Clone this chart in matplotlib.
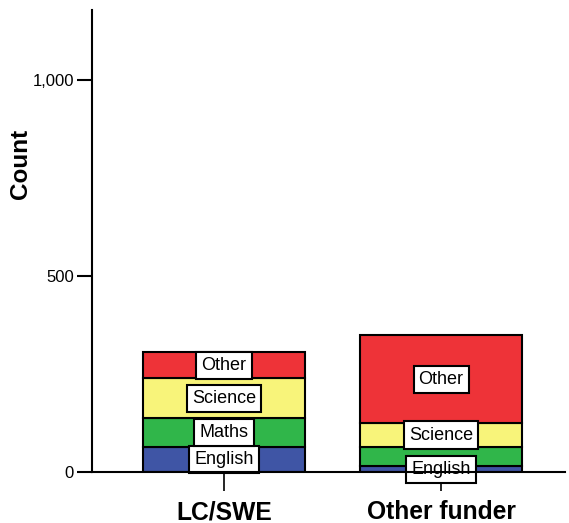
import matplotlib
matplotlib.use("Agg")
import matplotlib.pyplot as plt
from matplotlib import font_manager as fm
import numpy as np

def find_font(bold):
    best = None
    for f in fm.fontManager.ttflist:
        fn = f.fname.lower()
        if "liberation" in fn and "sans" in fn and "narrow" not in fn and "mono" not in fn:
            isbold = "bold" in fn
            isital = "italic" in fn
            if isbold == bold and not isital:
                best = f.fname
    return best

reg_path = find_font(False)
bold_path = find_font(True)

def fp(size, bold=False):
    path = bold_path if bold else reg_path
    if path:
        return fm.FontProperties(fname=path, size=size)
    return fm.FontProperties(family="DejaVu Sans", size=size,
                             weight="bold" if bold else "normal")

categories = ["LC/SWE", "Other funder"]
subjects = ["English", "Maths", "Science", "Other"]
english = [66, 17]
maths = [72, 49]
science = [102, 59]
other = [68, 226]
colors = ["#3F55A5", "#30B64A", "#F8F47A", "#EE3338"]
yticks = [0, 500, 1000]
ytick_labels = ["0", "500", "1,000"]
# which segment labels are visible in the reference
show_label = {"English": [True, True], "Maths": [True, False],
              "Science": [True, True], "Other": [True, True]}

series = [english, maths, science, other]

fig = plt.figure(figsize=(5.69, 5.23), dpi=100)
ax = fig.add_axes([0.1617, 0.0966, 0.8313, 0.8844])

x = np.arange(len(categories))
bottom = np.zeros(len(categories))
for name, vals, col in zip(subjects, series, colors):
    vals = np.array(vals, dtype=float)
    ax.bar(x, vals, bottom=bottom, width=0.75, color=col, edgecolor="black",
           linewidth=1.5, zorder=2)
    for i, (xi, b, v) in enumerate(zip(x, bottom, vals)):
        if not show_label[name][i]:
            continue
        ax.text(xi, b + v / 2, name, ha="center", va="center",
                fontproperties=fp(13), zorder=3,
                bbox=dict(boxstyle="square,pad=0.28", facecolor="white",
                          edgecolor="black", linewidth=1.5))
    bottom += vals

ax.set_xlim(-0.608, 1.571)
ax.set_ylim(0, 1180)
ax.set_yticks(yticks)
ax.set_yticklabels(ytick_labels, fontproperties=fp(12))
ax.set_xticks(x)
ax.set_xticklabels(categories, fontproperties=fp(17.7, True))
ax.set_ylabel("Count", fontproperties=fp(17.5, True))
ax.yaxis.set_label_coords(-0.127, 0.668)

for s in ["top", "right"]:
    ax.spines[s].set_visible(False)
for s in ["left", "bottom"]:
    ax.spines[s].set_linewidth(1.5)
    ax.spines[s].set_zorder(4)
ax.tick_params(axis="y", length=11, width=1.5, pad=2)
ax.tick_params(axis="x", length=14, width=1.2, pad=6)

fig.savefig("out.png", dpi=100)
